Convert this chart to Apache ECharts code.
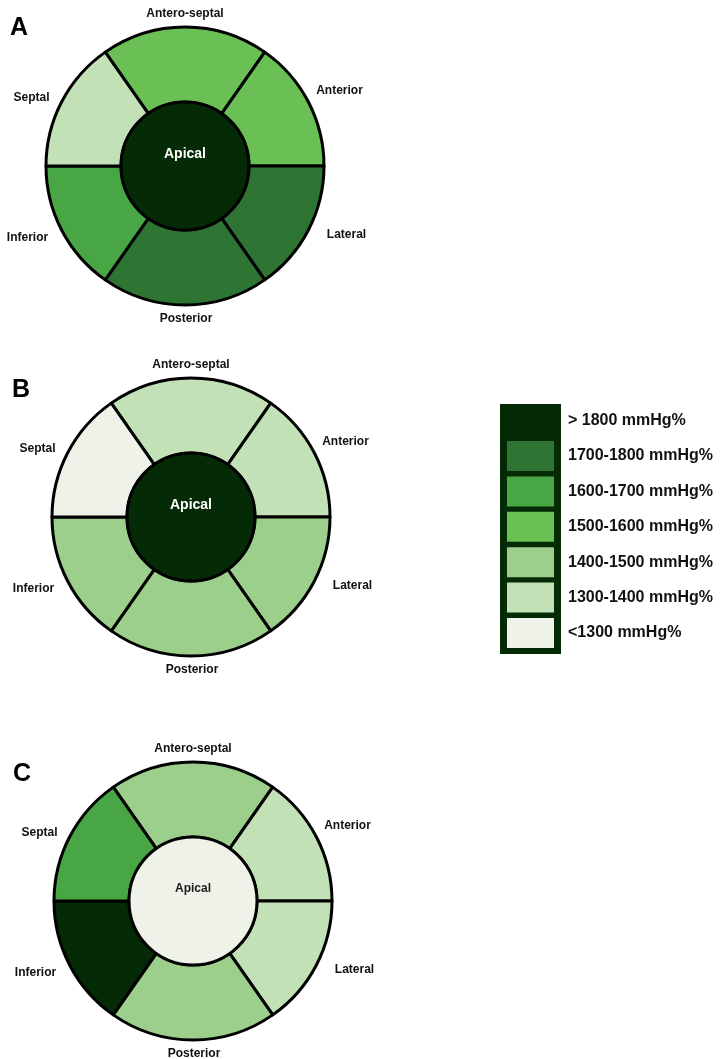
<!DOCTYPE html>
<html>
<head>
<meta charset="utf-8">
<script src="https://cdn.jsdelivr.net/npm/echarts@6/dist/echarts.min.js"></script>
<style>
html,body{margin:0;padding:0;background:#fff;}
#c{width:721px;height:1059px;}
</style>
</head>
<body>
<div id="c"></div>
<script>
// ---- data ----
const segments = ['Antero-septal', 'Anterior', 'Lateral', 'Posterior', 'Inferior', 'Septal'];
const centerName = 'Apical';
const panels = ['A', 'B', 'C'];
// legend categories (index 0 = lowest)
const levelLabels = ['<1300 mmHg%', '1300-1400 mmHg%', '1400-1500 mmHg%', '1500-1600 mmHg%', '1600-1700 mmHg%', '1700-1800 mmHg%', '> 1800 mmHg%'];
const levelColors = ['#eef2e8', '#c3e1b7', '#9ccf8b', '#6abf55', '#48a744', '#2e7432', '#042b05'];
// segment levels per panel (order of `segments`), and apical level
const levelsA = [3, 3, 5, 5, 4, 1];
const levelsB = [1, 1, 2, 2, 2, 0];
const levelsC = [2, 1, 1, 2, 6, 4];
const apicalA = 6;
const apicalB = 6;
const apicalC = 0;

// ---- layout ----
const segSpans = [70, 55, 55, 70, 55, 55]; // degrees
const startAngle = 125;
const centers = [[185, 166], [191, 517], [193, 901]];
const rInner = 64, rOuter = 139;
const labelOffsets = [[0, 3], [17, -4], [24, -3], [1, -2], [-20, 0], [-16, 3]];
const apicalFont = [14, 14, 12];
const letterPos = [[10, 39], [12, 401], [13, 785]];

const segLevels = [levelsA, levelsB, levelsC];
const apLevels = [apicalA, apicalB, apicalC];
const FONT = '"Liberation Sans", Arial, sans-serif';

const series = [];
panels.forEach((p, k) => {
  const c = centers[k];
  series.push({
    type: 'pie', center: c, radius: [rInner, rOuter], startAngle: startAngle, clockwise: true,
    silent: true, animation: false, label: { show: false }, labelLine: { show: false },
    itemStyle: { borderColor: '#000', borderWidth: 3 },
    data: segments.map((s, i) => ({ name: s, value: segSpans[i], itemStyle: { color: levelColors[segLevels[k][i]] } }))
  });
  series.push({
    type: 'pie', center: c, radius: [0, rInner], silent: true, animation: false,
    itemStyle: { borderColor: '#000', borderWidth: 3 },
    label: {
      show: true, position: 'center', formatter: centerName, offset: [0, -12],
      fontFamily: FONT, fontWeight: 'bold', fontSize: apicalFont[k],
      color: apLevels[k] >= 4 ? '#ffffff' : '#1a1a1a'
    },
    labelLine: { show: false },
    data: [{ name: centerName, value: 1, itemStyle: { color: levelColors[apLevels[k]] } }]
  });
  series.push({
    type: 'pie', center: c, radius: [140, 164], startAngle: startAngle, clockwise: true,
    silent: true, animation: false,
    itemStyle: { color: 'rgba(0,0,0,0)', borderWidth: 0 },
    labelLine: { show: false },
    label: { show: true, position: 'inside', formatter: '{b}', fontFamily: FONT, fontWeight: 'bold', fontSize: 12, color: '#111' },
    data: segments.map((s, i) => ({ name: s, value: segSpans[i], label: { offset: labelOffsets[i] } }))
  });
});

// panel letters and legend (graphic)
const graphics = [];
panels.forEach((p, k) => {
  graphics.push({ type: 'text', left: letterPos[k][0], top: letterPos[k][1] - 23,
    style: { text: p, font: 'bold 25px ' + FONT, fill: '#000' } });
});
const lgX = 500, lgY = 404, lgW = 61, lgH = 250;
graphics.push({ type: 'rect', shape: { x: lgX, y: lgY, width: lgW, height: lgH }, style: { fill: levelColors[6] } });
const order = levelLabels.map((_, i) => levelLabels.length - 1 - i); // top: highest
order.forEach((lv, i) => {
  const sy = 405.6 + i * 35.4;
  graphics.push({ type: 'rect', shape: { x: 507, y: sy, width: 47, height: 30 }, style: { fill: levelColors[lv] } });
  graphics.push({ type: 'text', x: 568, y: sy + 15,
    style: { text: levelLabels[lv], font: 'bold 16px ' + FONT, fill: '#111', textVerticalAlign: 'middle', verticalAlign: 'middle' } });
});

const chart = echarts.init(document.getElementById('c'), null, { renderer: 'canvas' });
chart.setOption({ backgroundColor: '#fff', animation: false, series: series, graphic: graphics });
</script>
</body>
</html>
